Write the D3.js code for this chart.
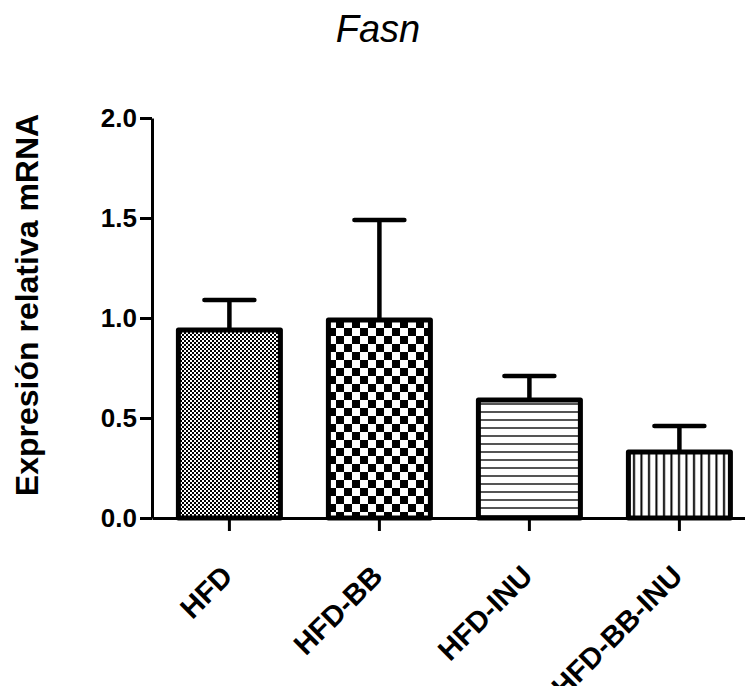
<!DOCTYPE html>
<html>
<head>
<meta charset="utf-8">
<script src="https://cdn.jsdelivr.net/npm/d3@7"></script>
<style>
  body { margin: 0; background: #fff; }
  svg { display: block; }
  text { font-family: "Liberation Sans", Arial, sans-serif; fill: #000; }
</style>
</head>
<body>
<div id="chart"></div>
<script>
'use strict';

// datos
var groups = ['HFD', 'HFD-BB', 'HFD-INU', 'HFD-BB-INU'];
var means = [0.94, 0.99, 0.59, 0.33];
var sems = [0.15, 0.50, 0.12, 0.13];
var yTicks = [0, 0.5, 1.0, 1.5, 2.0];
var patternIds = ['fineCheck', 'coarseCheck', 'hLines', 'vLines'];

var W = 745, H = 686;

var svg = d3.select('#chart').append('svg')
  .attr('width', W)
  .attr('height', H);

var defs = svg.append('defs');

// tramas tipo Prism
var p1 = defs.append('pattern').attr('id', 'fineCheck')
  .attr('patternUnits', 'userSpaceOnUse').attr('width', 4).attr('height', 4);
p1.append('rect').attr('width', 4).attr('height', 4).attr('fill', '#fff');
p1.append('rect').attr('width', 2).attr('height', 2).attr('fill', '#000');
p1.append('rect').attr('x', 2).attr('y', 2).attr('width', 2).attr('height', 2).attr('fill', '#000');

var p2 = defs.append('pattern').attr('id', 'coarseCheck')
  .attr('patternUnits', 'userSpaceOnUse').attr('width', 16).attr('height', 16);
p2.append('rect').attr('width', 16).attr('height', 16).attr('fill', '#fff');
p2.append('rect').attr('width', 8).attr('height', 8).attr('fill', '#000');
p2.append('rect').attr('x', 8).attr('y', 8).attr('width', 8).attr('height', 8).attr('fill', '#000');

var p3 = defs.append('pattern').attr('id', 'hLines')
  .attr('patternUnits', 'userSpaceOnUse').attr('width', 8).attr('height', 8);
p3.append('rect').attr('width', 8).attr('height', 8).attr('fill', '#fff');
p3.append('rect').attr('y', 3).attr('width', 8).attr('height', 2).attr('fill', '#555');

var p4 = defs.append('pattern').attr('id', 'vLines')
  .attr('patternUnits', 'userSpaceOnUse').attr('width', 7.5).attr('height', 8);
p4.append('rect').attr('width', 7.5).attr('height', 8).attr('fill', '#fff');
p4.append('rect').attr('x', 3).attr('width', 2).attr('height', 8).attr('fill', '#000');

var x = d3.scaleBand()
  .domain(groups)
  .range([152, 752])
  .paddingInner(0.32)
  .paddingOuter(0.16)
  .align(0.55);

var y = d3.scaleLinear()
  .domain([0, 2])
  .range([518, 118]);

// eje y
var yAxis = svg.append('g')
  .attr('transform', 'translate(152,0)')
  .call(d3.axisLeft(y).tickValues(yTicks).tickSize(12).tickSizeOuter(0).tickFormat(d3.format('.1f')));
yAxis.select('.domain').attr('stroke-width', 3);
yAxis.selectAll('.tick line').attr('stroke-width', 3);
yAxis.selectAll('.tick text')
  .attr('x', -15)
  .attr('font-size', 26)
  .attr('font-weight', 'bold')
  .attr('font-family', '"Liberation Sans", Arial, sans-serif');

// barras
svg.selectAll('.bar')
  .data(groups)
  .enter().append('rect')
  .attr('class', 'bar')
  .attr('x', function(d){ return x(d); })
  .attr('y', function(d, i){ return y(means[i]); })
  .attr('width', x.bandwidth())
  .attr('height', function(d, i){ return y(0) - y(means[i]); })
  .attr('fill', function(d, i){ return 'url(#' + patternIds[i] + ')'; })
  .attr('stroke', '#000')
  .attr('stroke-width', 5)
  .attr('stroke-linejoin', 'round');

// barras de error (solo hacia arriba)
var err = svg.selectAll('.err')
  .data(groups)
  .enter().append('g')
  .attr('class', 'err');
err.append('line')
  .attr('x1', function(d){ return x(d) + x.bandwidth() / 2; })
  .attr('x2', function(d){ return x(d) + x.bandwidth() / 2; })
  .attr('y1', function(d, i){ return y(means[i]) - 2; })
  .attr('y2', function(d, i){ return y(means[i] + sems[i]); })
  .attr('stroke', '#000')
  .attr('stroke-width', 4.5);
err.append('line')
  .attr('x1', function(d){ return x(d) + x.bandwidth() / 2 - 25; })
  .attr('x2', function(d){ return x(d) + x.bandwidth() / 2 + 25; })
  .attr('y1', function(d, i){ return y(means[i] + sems[i]); })
  .attr('y2', function(d, i){ return y(means[i] + sems[i]); })
  .attr('stroke', '#000')
  .attr('stroke-width', 4.5)
  .attr('stroke-linecap', 'round');

// eje x
var xAxis = svg.append('g')
  .attr('transform', 'translate(0,518)')
  .call(d3.axisBottom(x).tickSize(13).tickSizeOuter(0));
xAxis.select('.domain').attr('stroke-width', 3);
xAxis.selectAll('.tick line').attr('stroke-width', 3);
xAxis.selectAll('.tick text')
  .attr('font-size', 29)
  .attr('font-weight', 'bold')
  .attr('font-family', '"Liberation Sans", Arial, sans-serif')
  .attr('text-anchor', 'end')
  .attr('dy', 0)
  .attr('y', 0)
  .attr('transform', 'translate(5,60) rotate(-45)');

// titulo
svg.append('text')
  .attr('x', 378)
  .attr('y', 42)
  .attr('text-anchor', 'middle')
  .attr('font-size', 38)
  .attr('font-style', 'italic')
  .text('Fasn');

// etiqueta eje y
svg.append('text')
  .attr('transform', 'translate(38,305) rotate(-90)')
  .attr('text-anchor', 'middle')
  .attr('font-size', 32)
  .attr('font-weight', 'bold')
  .text('Expresión relativa mRNA');
</script>
</body>
</html>
